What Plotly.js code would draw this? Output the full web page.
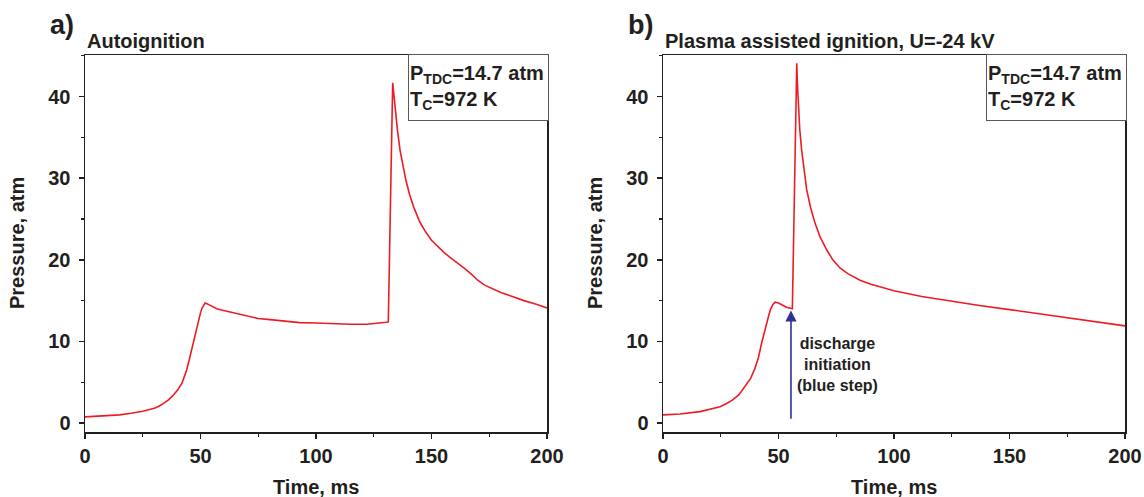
<!DOCTYPE html>
<html>
<head>
<meta charset="utf-8">
<script src="https://cdn.plot.ly/plotly-3.0.1.min.js"></script>
<style>html,body{margin:0;padding:0;background:#fff;}#chart{width:1144px;height:497px;}</style>
</head>
<body>
<div id="chart"></div>
<script>
// Panel a) Autoignition
const timeA = [0, 5, 10, 15, 20, 25, 30, 32, 34, 36, 38, 40, 42, 43, 44, 45, 46, 47, 48, 49, 50, 50.7, 51.4, 52, 53, 55, 57, 60, 63, 66, 70, 75, 79, 86, 93, 100, 108, 115, 122, 127, 130.5, 131.3, 133.2, 133.8, 134.5, 135.3, 136.4, 137.5, 138.8, 140.5, 142.5, 145, 147.5, 150, 152.5, 155, 158, 161, 164, 167, 170, 173, 176, 180, 185, 190, 195, 200];
const pressA = [0.75, 0.85, 0.95, 1.0, 1.2, 1.45, 1.8, 2.05, 2.4, 2.8, 3.35, 4.0, 4.9, 5.6, 6.5, 7.6, 8.8, 10.1, 11.4, 12.6, 13.5, 14.1, 14.5, 14.7, 14.6, 14.3, 14.0, 13.8, 13.6, 13.4, 13.1, 12.8, 12.7, 12.5, 12.3, 12.25, 12.15, 12.1, 12.1, 12.2, 12.35, 12.4, 41.7, 40.0, 37.9, 35.8, 33.4, 31.6, 29.9, 28.0, 26.3, 24.6, 23.4, 22.4, 21.7, 21.0, 20.3, 19.7, 19.0, 18.3, 17.5, 16.9, 16.5, 16.0, 15.5, 15.0, 14.6, 14.1];
// Panel b) Plasma assisted ignition
const timeB = [0, 7.4, 16, 20, 24.7, 28, 30, 33, 36.2, 38, 39.8, 41.3, 42.7, 44.2, 45.6, 46.5, 47.5, 48.5, 50, 51.4, 53.5, 56, 57.9, 58.2, 58.6, 59.2, 60, 61, 62.2, 63.8, 65.8, 68, 70.9, 73.5, 76.6, 80, 85.3, 90, 93.9, 100, 112, 125, 137, 150, 162, 175, 187, 200];
const pressB = [1.0, 1.1, 1.4, 1.65, 2.0, 2.45, 2.8, 3.5, 4.7, 5.5, 6.7, 8.0, 9.8, 11.6, 13.0, 13.9, 14.5, 14.8, 14.7, 14.5, 14.2, 14.0, 44.1, 41.5, 38.4, 36.0, 33.5, 31.0, 28.6, 26.5, 24.5, 22.8, 21.2, 20.0, 19.0, 18.3, 17.5, 17.0, 16.7, 16.2, 15.5, 14.9, 14.4, 13.9, 13.4, 12.9, 12.4, 11.9];
const dischargeTime = 55.4;
const dischargeFrom = 0.35;
const dischargeTo = 13.8;

const xTickVals = [0, 50, 100, 150, 200];
const yTickVals = [0, 10, 20, 30, 40];
const panelTitles = ["Autoignition", "Plasma assisted ignition, U=-24 kV"];
const panelLabels = ["a)", "b)"];
const conditionText = "P<sub>TDC</sub>=14.7 atm<br>T<sub>C</sub>=972 K";

const W = 1144, H = 497;
const px = x => x / W;
const py = y => 1 - y / H;
const FONT = "Liberation Sans, Arial, Helvetica, sans-serif";
const INK = "#231f20";
const RED = "#ed1c24";

const traces = [
  {x: timeA, y: pressA, xaxis: "x", yaxis: "y", mode: "lines", line: {color: RED, width: 1.6}, hoverinfo: "skip"},
  {x: timeB, y: pressB, xaxis: "x2", yaxis: "y2", mode: "lines", line: {color: RED, width: 1.6}, hoverinfo: "skip"}
];

function xax(domain, anchor) {
  return {
    domain: domain, anchor: anchor, range: [0, 200], tickvals: xTickVals,
    showgrid: false, zeroline: false, showline: true, mirror: true,
    linecolor: INK, linewidth: 1.5, ticks: "outside", ticklen: 5, tickwidth: 1.5, tickcolor: INK,
    minor: {ticks: "outside", ticklen: 3, tickwidth: 1.2, tickcolor: INK, dtick: 25, tick0: 0},
    tickfont: {family: FONT, size: 20, color: INK, weight: "bold"}, fixedrange: true
  };
}
function yax(anchor) {
  return {
    domain: [py(432), py(55)], anchor: anchor, range: [-1.1, 45.1], tickvals: yTickVals,
    showgrid: false, zeroline: false, showline: true, mirror: true,
    linecolor: INK, linewidth: 1.5, ticks: "outside", ticklen: 5, tickwidth: 1.5, tickcolor: INK,
    minor: {ticks: "outside", ticklen: 3, tickwidth: 1.2, tickcolor: INK, dtick: 5, tick0: 0},
    tickfont: {family: FONT, size: 20, color: INK, weight: "bold"}, ticklabelstandoff: 4, fixedrange: true
  };
}

const annotations = [];
const panelsX = [[85, 547], [663, 1125]];
const labelX = [62, 640];
panelsX.forEach((p, i) => {
  annotations.push({xref: "paper", yref: "paper", x: px(p[0]), y: py(41), xanchor: "left", yanchor: "middle",
    text: panelTitles[i], showarrow: false, font: {family: FONT, size: 20, color: INK, weight: "bold"}});
  annotations.push({xref: "paper", yref: "paper", x: px(labelX[i]), y: py(25), xanchor: "center", yanchor: "middle",
    text: panelLabels[i], showarrow: false, font: {family: FONT, size: 27, color: INK, weight: "bold"}});
  annotations.push({xref: "paper", yref: "paper", x: px(p[1] - 141 + 2), y: py(54), xanchor: "left", yanchor: "top",
    text: conditionText, showarrow: false, align: "left", valign: "middle", width: 137, height: 63,
    bordercolor: "#58595b", borderwidth: 1, borderpad: 1, bgcolor: "#ffffff",
    font: {family: FONT, size: 20, color: INK, weight: "bold"}});
  annotations.push({xref: "paper", yref: "paper", x: px((p[0] + p[1]) / 2), y: py(487), xanchor: "center", yanchor: "middle",
    text: "Time, ms", showarrow: false, font: {family: FONT, size: 20, color: INK, weight: "bold"}});
  annotations.push({xref: "paper", yref: "paper", x: px(p[0] - 68), y: py(243), xanchor: "center", yanchor: "middle",
    text: "Pressure, atm", textangle: -90, showarrow: false, font: {family: FONT, size: 20, color: INK, weight: "bold"}});
});
annotations.push({xref: "x2", yref: "y2", x: dischargeTime, y: dischargeTo, axref: "x2", ayref: "y2",
  ax: dischargeTime, ay: dischargeFrom, text: "", showarrow: true, arrowhead: 2, arrowsize: 1.4, arrowwidth: 1.6,
  arrowcolor: "#2e3192", standoff: 0, startstandoff: 0});
annotations.push({xref: "paper", yref: "paper", x: px(837), y: py(364), xanchor: "center", yanchor: "middle",
  text: "discharge<br>initiation<br>(blue step)", showarrow: false, align: "center",
  font: {family: FONT, size: 16, color: INK, weight: "bold"}});

const layout = {
  width: W, height: H, margin: {l: 0, r: 0, t: 0, b: 0},
  paper_bgcolor: "#ffffff", plot_bgcolor: "#ffffff", showlegend: false,
  xaxis: xax([px(85), px(547)], "y"), yaxis: yax("x"),
  xaxis2: xax([px(663), px(1125)], "y2"), yaxis2: yax("x2"),
  annotations: annotations
};
Plotly.newPlot("chart", traces, layout, {displayModeBar: false, staticPlot: true});
</script>
</body>
</html>
